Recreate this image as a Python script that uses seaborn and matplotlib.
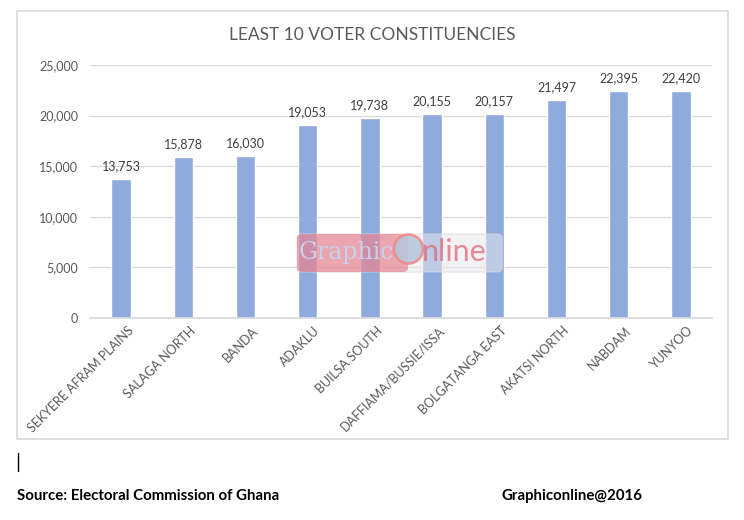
import matplotlib
matplotlib.use("Agg")
import matplotlib.pyplot as plt
import matplotlib.transforms as mtransforms
import seaborn as sns
import pandas as pd
from matplotlib.patches import Rectangle, FancyBboxPatch, Ellipse

constituencies = ["SEKYERE AFRAM PLAINS", "SALAGA NORTH", "BANDA", "ADAKLU",
                  "BUILSA SOUTH", "DAFFIAMA/BUSSIE/ISSA", "BOLGATANGA EAST",
                  "AKATSI NORTH", "NABDAM", "YUNYOO"]
voters = [13753, 15878, 16030, 19053, 19738, 20155, 20157, 21497, 22395, 22420]
yticks = [0, 5000, 10000, 15000, 20000, 25000]
title = "LEAST 10 VOTER CONSTITUENCIES"

sns.set_theme(style="white")
plt.rcParams["font.family"] = ["Lato", "DejaVu Sans"]

W, H = 744, 520
fig = plt.figure(figsize=(W / 100, H / 100), dpi=100)
fig.patch.set_facecolor("white")

def fx(px):
    return px / W

def fy(py):
    return 1 - py / H

ax = fig.add_axes([fx(90), fy(318), fx(712) - fx(90), fy(65) - fy(318)])
df = pd.DataFrame({"c": constituencies, "v": voters})
sns.barplot(data=df, x="c", y="v", ax=ax, color="#8faadc", saturation=1, width=0.31)
ax.set_ylim(0, 25000)
ax.set_xlim(-0.5, len(constituencies) - 0.5)
ax.set_yticks(yticks)
ax.set_yticklabels([f"{t:,}" for t in yticks], color="#595959", fontsize=9)
ax.yaxis.grid(True, color="#d9d9d9", linewidth=0.9)
ax.set_axisbelow(True)
for s in ["top", "right", "left"]:
    ax.spines[s].set_visible(False)
ax.spines["bottom"].set_color("#d9d9d9")
ax.tick_params(axis="y", length=0, pad=8.5)
ax.tick_params(axis="x", length=0, pad=2)
ax.set_xlabel("")
ax.set_ylabel("")
ax.set_xticks(range(len(constituencies)))
ax.set_xticklabels(constituencies, rotation=45, ha="right", va="top",
                   rotation_mode="anchor", color="#595959", fontsize=9)
shift = mtransforms.ScaledTranslation(6 / 100, -4 / 100, fig.dpi_scale_trans)
for lab in ax.get_xticklabels():
    lab.set_transform(lab.get_transform() + shift)
for i, v in enumerate(voters):
    ax.annotate(f"{v:,}", (i, v), xytext=(0, 5), textcoords="offset points",
                ha="center", va="bottom", fontsize=9, color="#404040")

fig.text(fx(372), fy(35), title, ha="center", va="center", fontsize=12.5, color="#595959")

# chart border
fig.patches.append(Rectangle((fx(17), fy(439)), fx(728) - fx(17), fy(11) - fy(439),
                             transform=fig.transFigure, fill=False,
                             edgecolor="#d9d9d9", linewidth=1.2))
# cursor mark
fig.add_artist(plt.Line2D([fx(17.5), fx(17.5)], [fy(453), fy(471)],
                          transform=fig.transFigure, color="black", linewidth=1))

fig.text(fx(17), fy(496), "Source: Electoral Commission of Ghana", ha="left",
         va="center", fontsize=10.8, fontweight="bold", color="black")
fig.text(fx(502), fy(496), "Graphiconline@2016", ha="left",
         va="center", fontsize=10.8, fontweight="bold", color="black")

# watermark
fig.patches.append(FancyBboxPatch((fx(297), fy(272)), fx(502) - fx(297), fy(234) - fy(272),
                                  boxstyle="round,pad=0,rounding_size=0.008",
                                  transform=fig.transFigure, facecolor="#e8e8ee",
                                  edgecolor="#dddddd", alpha=0.55, zorder=5))
fig.patches.append(FancyBboxPatch((fx(297), fy(272)), fx(408) - fx(297), fy(234) - fy(272),
                                  boxstyle="round,pad=0,rounding_size=0.008",
                                  transform=fig.transFigure, facecolor="#e2475a",
                                  edgecolor="none", alpha=0.45, zorder=6))
fig.text(fx(299), fy(252), "Graphic", ha="left", va="center", fontsize=17,
         family="DejaVu Serif", color="#c8d4ee", alpha=0.95, zorder=7)
fig.add_artist(Ellipse((fx(408.5), fy(249)), 29 / W, 29 / H, transform=fig.transFigure,
                       facecolor="#b9c6dc", edgecolor="#f08a8a", linewidth=1.8,
                       alpha=0.9, zorder=8))
fig.text(fx(422), fy(252), "nline", ha="left", va="center", fontsize=22,
         color="#e06070", alpha=0.7, zorder=7)

fig.savefig("out.png", dpi=100, facecolor="white")
